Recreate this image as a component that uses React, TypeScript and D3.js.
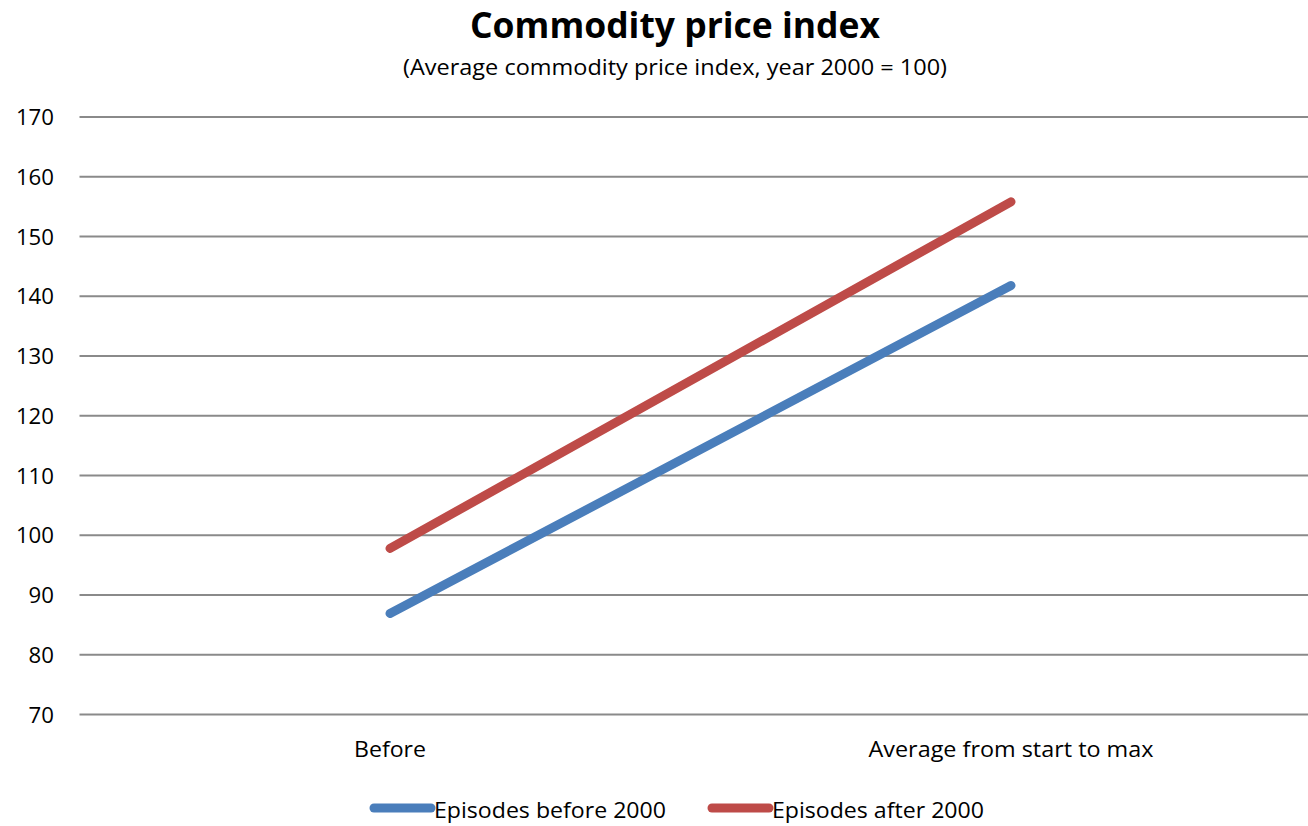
import React from "react";
import * as d3 from "d3";

const categories = ["Before", "Average from start to max"];
const seriesNames = ["Episodes before 2000", "Episodes after 2000"];
const beforeValues = [86.9, 141.8];
const afterValues = [97.8, 155.8];
const yTicks = [70, 80, 90, 100, 110, 120, 130, 140, 150, 160, 170];
const colors = ["#4A7EBB", "#BE4B48"];

const W = 1308;
const H = 826;
const FONT = "'Open Sans', 'Liberation Sans', sans-serif";

// approximate rendered widths in the reference (Calibri-like narrow font)
const catWidths = [72, 285];
const legendWidths = [232, 212];

export default function App() {
  const x = d3.scaleBand<string>().domain(categories).range([79.5, 1321.5]).padding(0);
  const y = d3.scaleLinear().domain([70, 170]).range([714.5, 117]);
  const cx = (c: string) => (x(c) ?? 0) + x.bandwidth() / 2;
  const line = d3
    .line<number>()
    .x((_, i) => cx(categories[i]))
    .y((d) => y(d));
  const series = [beforeValues, afterValues];
  const legendX = [374, 712];

  return (
    <svg
      width={W}
      height={H}
      style={{ position: "absolute", left: 0, top: 0, background: "#fff" }}
      fontFamily={FONT}
    >
      <rect width={W} height={H} fill="#fff" />
      <text x={675} y={38} textAnchor="middle" fontSize={36} fontWeight="bold" textLength={410} lengthAdjust="spacingAndGlyphs">
        Commodity price index
      </text>
      <text x={675} y={75} textAnchor="middle" fontSize={22} textLength={544} lengthAdjust="spacingAndGlyphs">
        (Average commodity price index, year 2000 = 100)
      </text>
      {yTicks.map((t) => (
        <g key={t}>
          <line x1={79.5} x2={W} y1={y(t)} y2={y(t)} stroke="#8a8a8a" strokeWidth={2} />
          <text
            x={54}
            y={y(t) + 8}
            textAnchor="end"
            fontSize={22}
            textLength={String(t).length * 12.7}
            lengthAdjust="spacingAndGlyphs"
          >
            {t}
          </text>
        </g>
      ))}
      {categories.map((c, i) => (
        <text
          key={c}
          x={cx(c)}
          y={757}
          textAnchor="middle"
          fontSize={22}
          textLength={catWidths[i]}
          lengthAdjust="spacingAndGlyphs"
        >
          {c}
        </text>
      ))}
      {series.map((s, i) => (
        <path key={i} d={line(s) ?? ""} fill="none" stroke={colors[i]} strokeWidth={9} strokeLinecap="round" />
      ))}
      {seriesNames.map((n, i) => (
        <g key={n}>
          <line x1={legendX[i]} x2={legendX[i] + 57} y1={808} y2={808} stroke={colors[i]} strokeWidth={9} strokeLinecap="round" />
          <text
            x={legendX[i] + 60}
            y={818}
            fontSize={22}
            textLength={legendWidths[i]}
            lengthAdjust="spacingAndGlyphs"
          >
            {n}
          </text>
        </g>
      ))}
    </svg>
  );
}
